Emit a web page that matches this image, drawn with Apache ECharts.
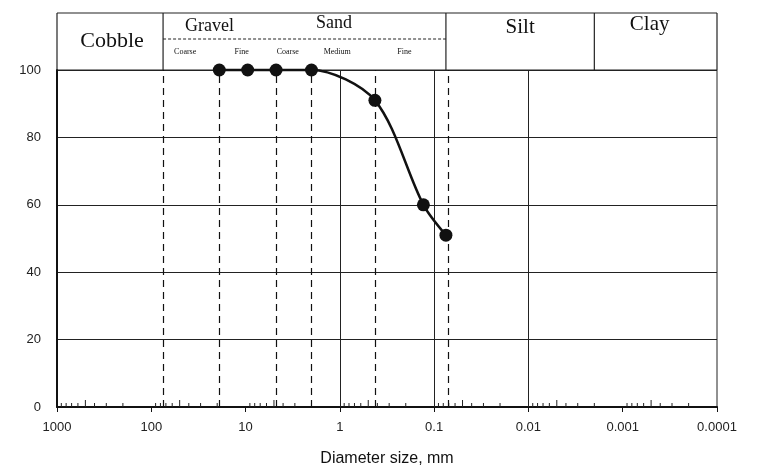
<!DOCTYPE html>
<html><head><meta charset="utf-8">
<script src="https://cdn.jsdelivr.net/npm/echarts@6/dist/echarts.min.js"></script>
<style>html,body{margin:0;padding:0;background:#fff}#c{width:757px;height:472px}</style>
</head><body><div id="c"></div>
<script>
// ---- data ----
const sieveSizes = [19, 9.5, 4.75, 2.0, 0.425, 0.13, 0.075];
const percentFiner = [100, 100, 100, 100, 91, 60, 51];
const xTickValues = [1000, 100, 10, 1, 0.1, 0.01, 0.001, 0.0001];
const xTickLabels = ['1000', '100', '10', '1', '0.1', '0.01', '0.001', '0.0001'];
const yTickValues = [0, 20, 40, 60, 80, 100];
const boundaryDiameters = [75, 19, 4.75, 2.0, 0.425, 0.075, 0.002];
const solidGridDiameters = [1, 0.1, 0.01, 0.001];
const minorMultipliers = [2, 3, 4, 5, 6, 7, 8, 9];
const headerBoxBounds = [1000, 75, 0.075, 0.002, 0.0001];
const mainClassNames = ['Cobble', 'Gravel', 'Sand', 'Silt', 'Clay'];
const mainClassBounds = [1000, 75, 4.75, 0.075, 0.002, 0.0001];
const subClassNames = ['Coarse', 'Fine', 'Coarse', 'Medium', 'Fine'];
const subClassBounds = [75, 19, 4.75, 2.0, 0.425, 0.075];

const chart = echarts.init(document.getElementById('c'), null, {renderer: 'canvas'});

const minorTickData = [];
for (let i = 0; i < xTickValues.length - 1; i++) {
  minorMultipliers.forEach(m => minorTickData.push([xTickValues[i + 1] * m, m]));
}

const markLineData = boundaryDiameters.map(v => ({
  xAxis: v, lineStyle: {type: [7, 5], color: '#111', width: 1.2}
})).concat(solidGridDiameters.map(v => ({
  xAxis: v, lineStyle: {type: 'solid', color: '#222', width: 1}
})));

function labelFor(v) {
  for (let i = 0; i < xTickValues.length; i++) {
    if (Math.abs(Math.log10(v) - Math.log10(xTickValues[i])) < 1e-6) return xTickLabels[i];
  }
  return '';
}

const serif = '"Liberation Serif", "Times New Roman", serif';
const sans = '"Liberation Sans", Arial, sans-serif';

function renderHeader(params, api) {
  const cs = params.coordSys;
  const top = cs.y;
  const hTop = top - 57;
  const mid = top - 31;
  const px = v => api.coord([v, 100])[0];
  const ch = [];
  const ls = {stroke: '#222', lineWidth: 1.2};
  // top line
  ch.push({type: 'line', shape: {x1: px(headerBoxBounds[0]), y1: hTop, x2: px(headerBoxBounds[headerBoxBounds.length - 1]), y2: hTop}, style: ls});
  headerBoxBounds.forEach(v => {
    const x = px(v);
    ch.push({type: 'line', shape: {x1: x, y1: hTop, x2: x, y2: top}, style: ls});
  });
  // dashed divider in gravel/sand box
  ch.push({type: 'line', shape: {x1: px(subClassBounds[0]), y1: mid, x2: px(subClassBounds[subClassBounds.length - 1]), y2: mid}, style: {stroke: '#222', lineWidth: 1, lineDash: [3, 2]}});
  const mainStyle = [
    {size: 22, y: top - 29, dx: 2},
    {size: 18, y: top - 44, dx: -10},
    {size: 18, y: top - 47, dx: -27},
    {size: 21, y: top - 43, dx: 0},
    {size: 21, y: top - 46, dx: -6}
  ];
  mainClassNames.forEach((n, i) => {
    const cx = (px(mainClassBounds[i]) + px(mainClassBounds[i + 1])) / 2 + mainStyle[i].dx;
    ch.push({type: 'text', style: {text: n, x: cx, y: mainStyle[i].y, align: 'center', verticalAlign: 'middle', font: mainStyle[i].size + 'px ' + serif, fill: '#111'}});
  });
  subClassNames.forEach((n, i) => {
    const cx = (px(subClassBounds[i]) + px(subClassBounds[i + 1])) / 2 - 6;
    ch.push({type: 'text', style: {text: n, x: cx, y: top - 18, align: 'center', verticalAlign: 'middle', font: '8px ' + serif, fill: '#111'}});
  });
  return {type: 'group', children: ch};
}

function renderMinor(params, api) {
  const p = api.coord([api.value(0), 0]);
  const len = api.value(1) === 5 ? 7 : 4;
  return {type: 'line', shape: {x1: p[0], y1: p[1], x2: p[0], y2: p[1] - len}, style: {stroke: '#222', lineWidth: 1}};
}

chart.setOption({
  animation: false,
  backgroundColor: '#fff',
  grid: {left: 57, right: 40, top: 70, bottom: 59, show: true, borderColor: '#222', borderWidth: 1, containLabel: false},
  xAxis: {
    type: 'log', logBase: 10, min: 0.0001, max: 1000, inverse: true,
    name: 'Diameter size, mm', nameLocation: 'middle', nameGap: 44,
    nameTextStyle: {fontSize: 16, fontFamily: sans, color: '#111'},
    axisLine: {show: true, lineStyle: {color: '#111', width: 2}},
    axisTick: {show: true, length: 5, lineStyle: {color: '#111', width: 1}},
    axisLabel: {fontSize: 13, fontFamily: sans, color: '#222', margin: 14, formatter: v => labelFor(v)},
    splitLine: {show: false}, minorTick: {show: false}
  },
  yAxis: {
    type: 'value', min: 0, max: 100, interval: 20,
    axisLine: {show: true, lineStyle: {color: '#111', width: 2}},
    axisTick: {show: false},
    axisLabel: {fontSize: 13, fontFamily: sans, color: '#222', margin: 16,
      formatter: v => yTickValues.indexOf(v) >= 0 ? String(v) : ''},
    splitLine: {show: true, lineStyle: {color: '#222', width: 1}}
  },
  series: [
    {
      type: 'custom', renderItem: renderMinor, data: minorTickData, silent: true, z: 3
    },
    {
      type: 'custom', renderItem: renderHeader, data: [[1, 100]], silent: true, clip: false, z: 3
    },
    {
      type: 'line', data: sieveSizes.map((d, i) => [d, percentFiner[i]]),
      smooth: 0.3, clip: false, symbol: 'circle', symbolSize: 13,
      itemStyle: {color: '#111'}, lineStyle: {color: '#111', width: 2.5}, z: 5,
      markLine: {silent: true, symbol: 'none', label: {show: false}, data: markLineData, animation: false}
    }
  ]
});
</script></body></html>
